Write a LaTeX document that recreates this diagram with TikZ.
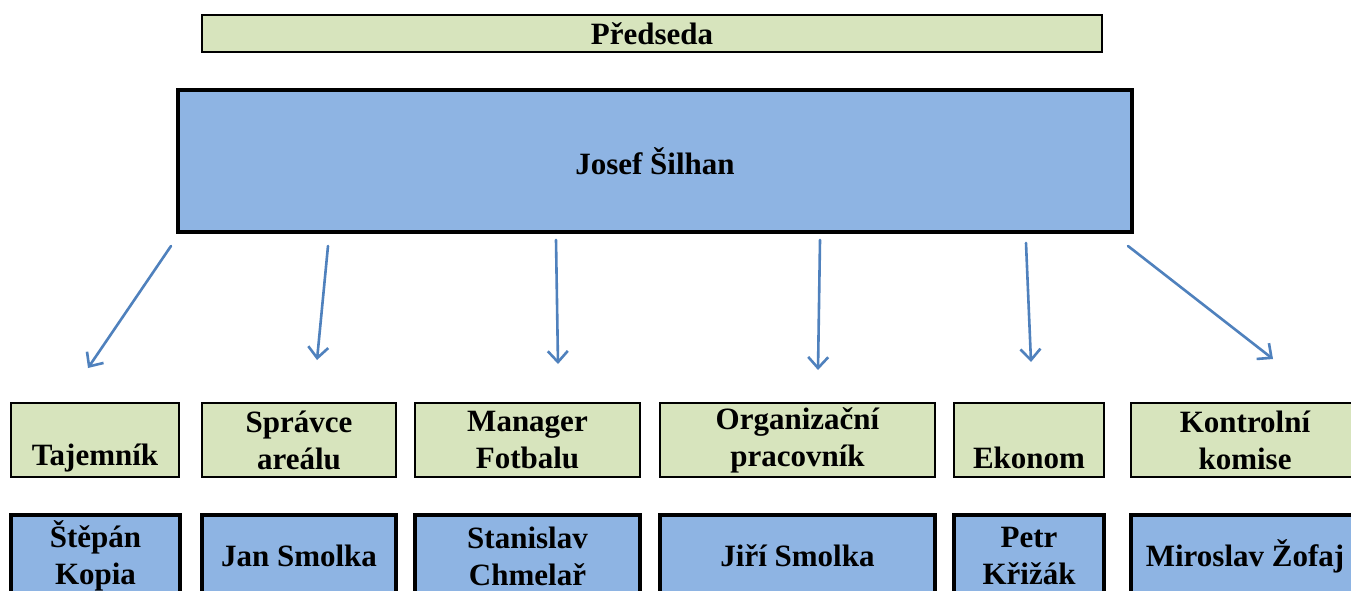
\documentclass[tikz,border=0pt]{standalone}
\usepackage{fontspec}
\setmainfont{Liberation Serif}
\usetikzlibrary{arrows.meta}
\definecolor{boxgreen}{RGB}{215,228,189}
\definecolor{boxblue}{RGB}{142,180,227}
\definecolor{arrowblue}{RGB}{79,129,189}
\begin{document}
\begin{tikzpicture}[x=1pt,y=-1pt,
  txt/.style={font=\fontsize{31}{37}\selectfont\bfseries, align=center, inner sep=0pt, text=black},
  greenbox/.style={draw=black, line width=2.2pt, fill=boxgreen, minimum height=74pt},
  bluebox/.style={draw=black, line width=3.4pt, fill=boxblue, minimum height=82pt},
  arr/.style={draw=arrowblue, line width=2.6pt, line cap=round,
    -{Straight Barb[length=11pt,width=20pt,line width=2.6pt]}}
]
\clip (0,0) rectangle (1351,590);
\fill[white] (0,0) rectangle (1351,590);

% top
\node[greenbox, minimum width=900pt, minimum height=37pt, txt] (predseda) at (652,33.5) {Předseda};
\node[bluebox, minimum width=954pt, minimum height=142pt, txt] (josef) at (655,161) {Josef Šilhan};

% arrows
\coordinate (s1) at (171,246); \coordinate (e1) at (88,368);
\coordinate (s2) at (328,246); \coordinate (e2) at (317,360);
\coordinate (s3) at (556,240); \coordinate (e3) at (558,364);
\coordinate (s4) at (820,240); \coordinate (e4) at (818,370);
\coordinate (s5) at (1026,243); \coordinate (e5) at (1031,362);
\coordinate (s6) at (1128,246); \coordinate (e6) at (1273,359);
\foreach \i in {1,...,6} { \draw[arr] (s\i) -- (e\i); }

% green row
\node[greenbox, minimum width=168pt, txt] (g1) at (95,440) {\vphantom{Ag}\\Tajemník};
\node[greenbox, minimum width=194pt, txt] (g2) at (299,440) {Správce\\areálu};
\node[greenbox, minimum width=225pt, txt] (g3) at (527.5,440) {Manager\\Fotbalu};
\node[greenbox, minimum width=275pt, txt] (g4) at (797.5,440) {Organizační\\pracovník};
\node[greenbox, minimum width=150pt, txt] (g5) at (1029,440) {\vphantom{Ag}\\Ekonom};
\node[greenbox, minimum width=228pt, txt] (g6) at (1245,440) {Kontrolní\\komise};

% blue row
\node[bluebox, minimum width=169pt, txt] (b1) at (95.5,556) {Štěpán\\Kopia};
\node[bluebox, minimum width=194pt, txt] (b2) at (299,556) {Jan Smolka};
\node[bluebox, minimum width=225pt, txt] (b3) at (527.5,556) {Stanislav\\Chmelař};
\node[bluebox, minimum width=275pt, txt] (b4) at (797.5,556) {Jiří Smolka};
\node[bluebox, minimum width=150pt, txt] (b5) at (1029,556) {Petr\\Křižák};
\node[bluebox, minimum width=228pt, txt] (b6) at (1245,556) {Miroslav Žofaj};
\end{tikzpicture}
\end{document}
